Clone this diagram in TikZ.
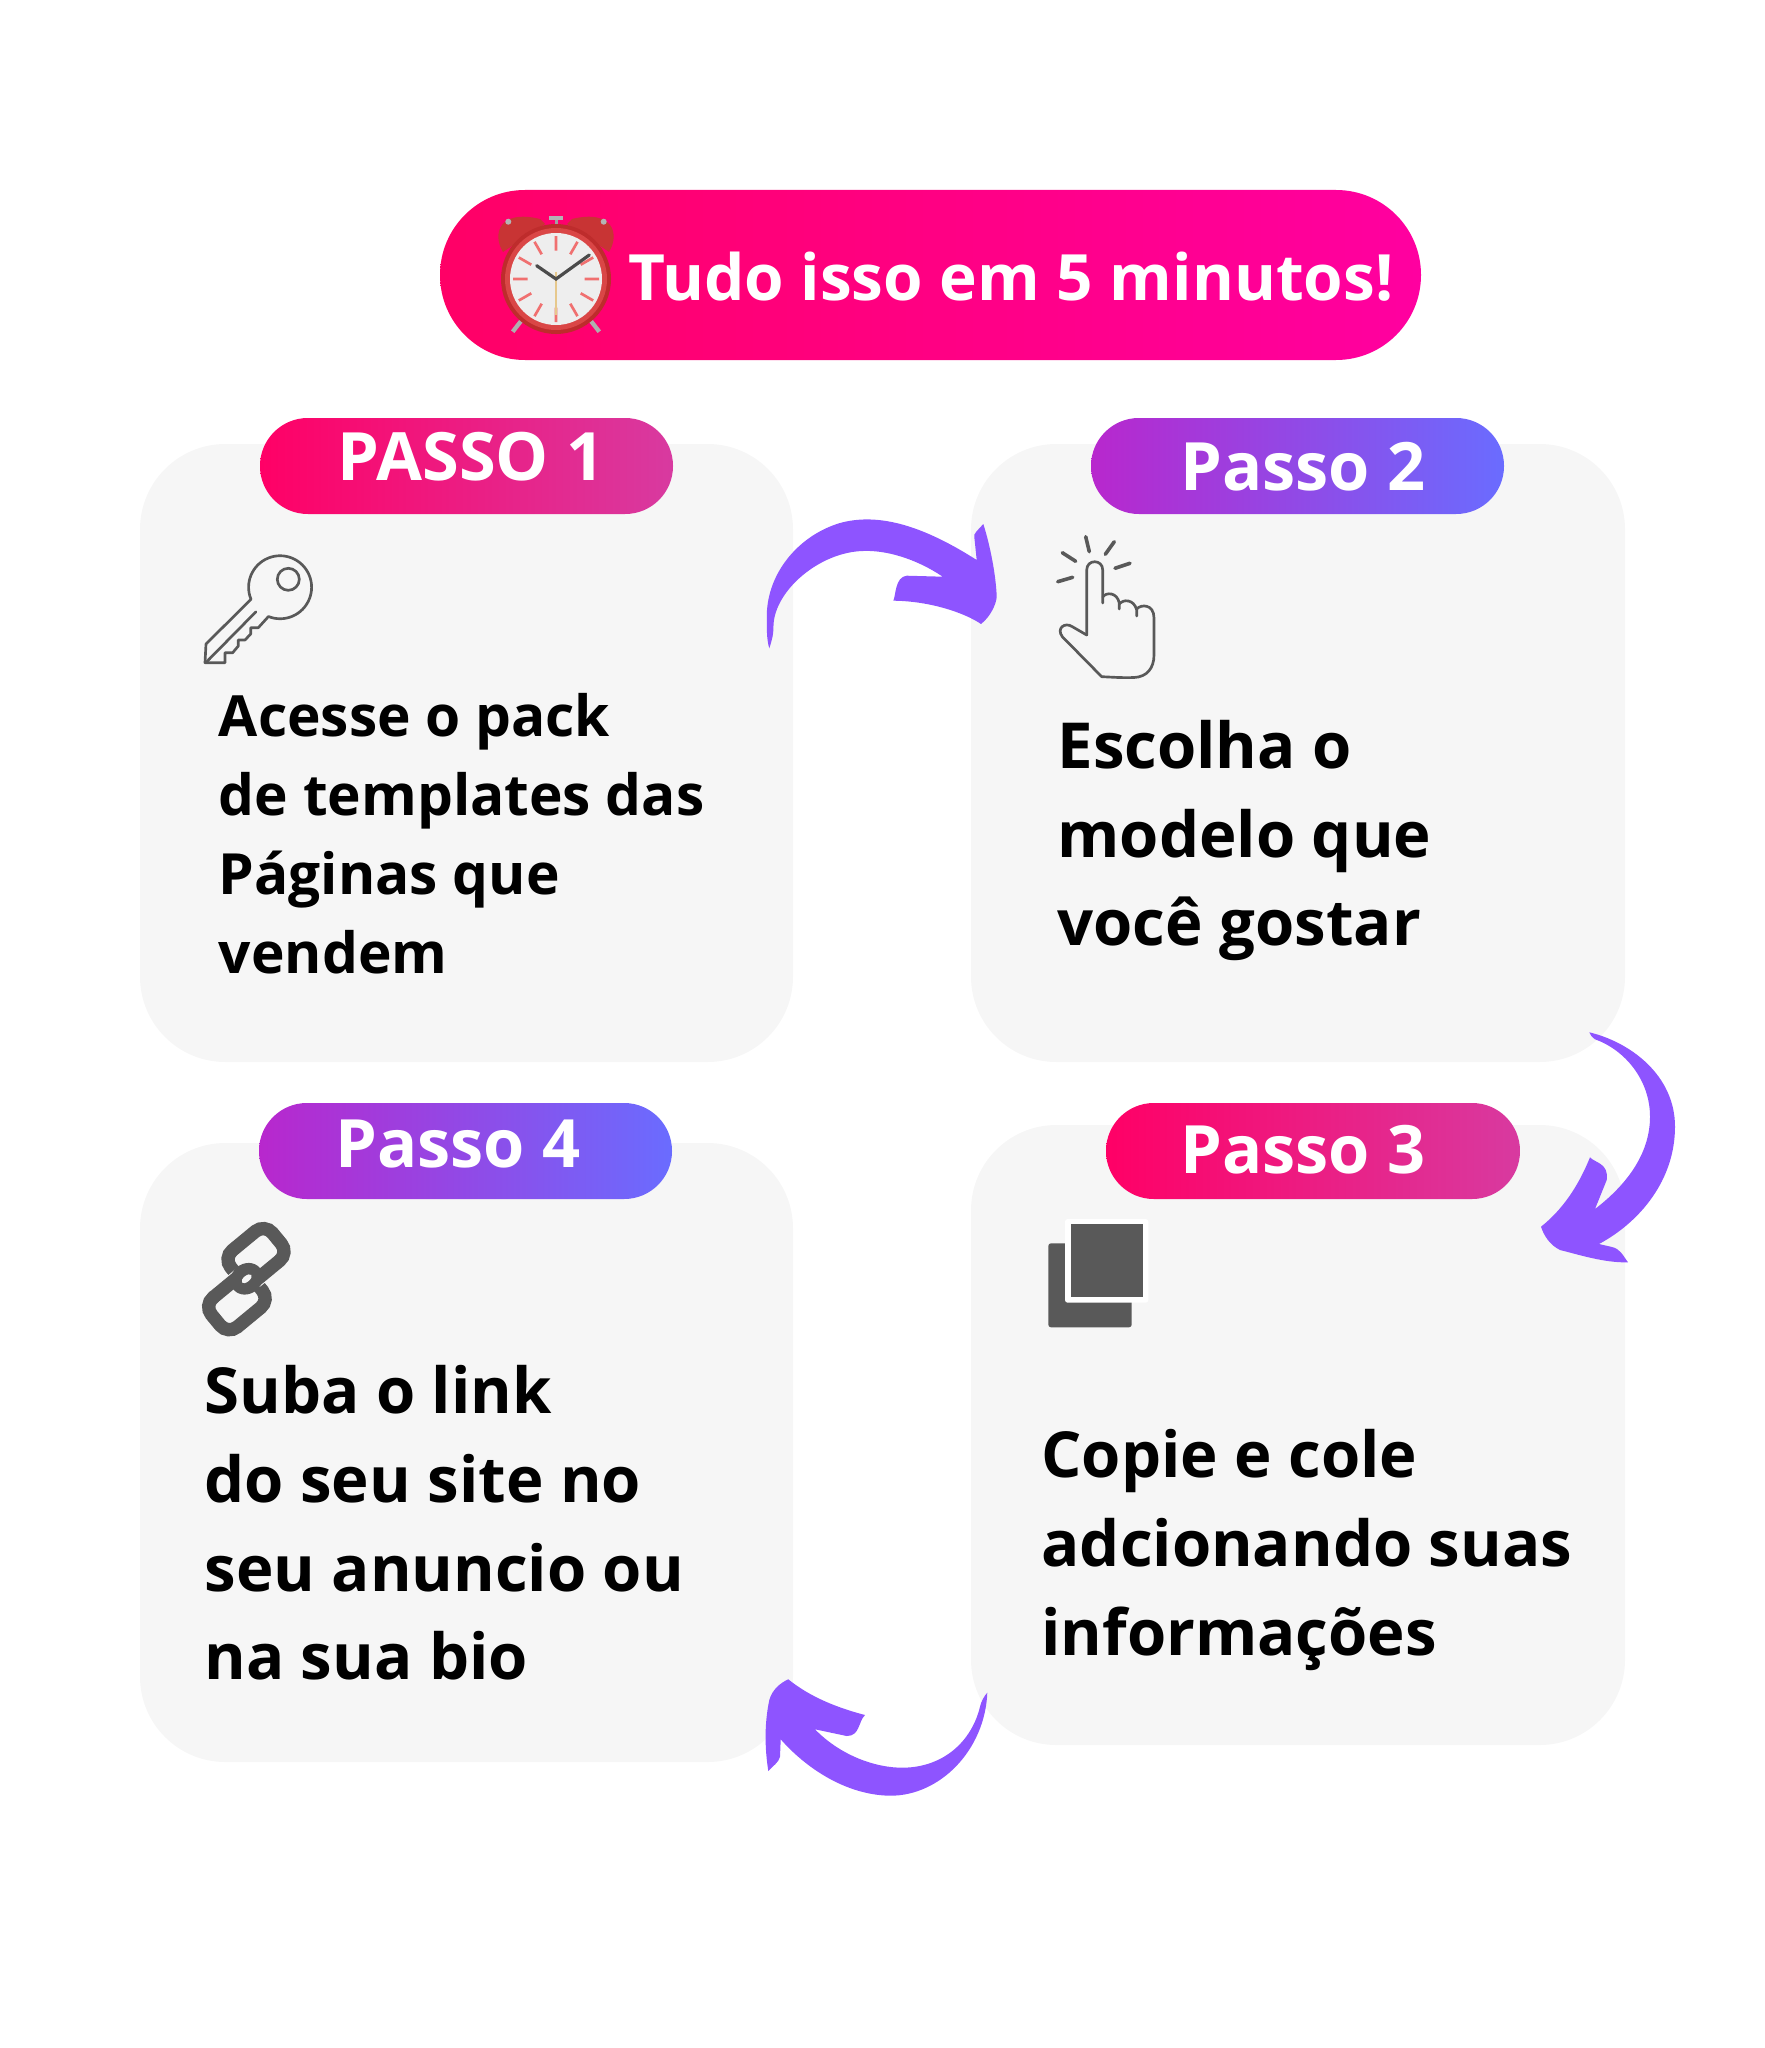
\documentclass[tikz,border=0pt]{standalone}
\usepackage{fontspec}
\setmainfont{Open Sans}
\definecolor{cardgrey}{RGB}{246,246,246}
\definecolor{icongrey}{RGB}{89,89,89}
\definecolor{arrowviolet}{RGB}{142,84,255}
\tikzset{every picture/.style={line width=0.75pt}}
\tikzset{
  card/.style={fill=cardgrey,rounded corners=64pt},
  pinkpill/.style={left color={rgb,255:red,255;green,0;blue,102},right color={rgb,255:red,216;green,58;blue,160},rounded corners=35.9pt},
  violetpill/.style={left color={rgb,255:red,184;green,39;blue,205},right color={rgb,255:red,106;green,108;blue,255},rounded corners=35.9pt},
  curvearrow/.style={fill=arrowviolet},
  iconline/.style={draw=icongrey,line width=2pt,line join=round,line cap=round},
  linkline/.style={draw=icongrey,line width=10pt,rounded corners=9pt},
  linkgap/.style={draw=cardgrey,line width=11.5pt,rounded corners=9pt},
  titletext/.style={anchor=base west,inner sep=0.75pt,text=white,font=\fontsize{47.9}{47.9}\selectfont\bfseries},
  pilltext/.style={anchor=base,inner sep=0.75pt,text=white,font=\fontsize{50}{50}\selectfont\bfseries},
  smalltext/.style={anchor=base west,inner sep=0.75pt,text=black,font=\fontsize{42.6}{42.6}\selectfont\bfseries},
  bigtext/.style={anchor=base west,inner sep=0.75pt,text=black,font=\fontsize{47.6}{47.6}\selectfont\bfseries},
}
\begin{document}
\begin{tikzpicture}[x=0.75pt,y=0.75pt,yscale=-1,xscale=1]
	\useasboundingbox (0,0) rectangle (1765,2048);
	
	%Shape: Rounded Rect (cards)
	\fill [card] (140,444) rectangle (793,1062);
	\fill [card] (971,444) rectangle (1625,1062);
	\fill [card] (971,1125) rectangle (1625,1745);
	\fill [card] (140,1143) rectangle (793,1762);
	
	%Shape: Pill (title)
	\shade [left color={rgb,255:red,255;green,0;blue,102},right color={rgb,255:red,255;green,0;blue,160},rounded corners=63.7pt] (440,190) rectangle (1421,360);
	%Shape: Pill (steps)
	\shade [pinkpill] (260,418) rectangle (673,514);
	\shade [violetpill] (1091,418) rectangle (1504,514);
	\shade [violetpill] (259,1103) rectangle (672,1199);
	\shade [pinkpill] (1106,1103) rectangle (1520,1199);
	
	%Shape: Alarm clock
	\fill [color={rgb,255:red,200;green,52;blue,52}] (503,252) .. controls (492,234) and (499,209) .. (540,219) -- (545,224) -- cycle ;
	\fill [color={rgb,255:red,200;green,52;blue,52}] (609,252) .. controls (620,234) and (613,209) .. (572,219) -- (567,224) -- cycle ;
	\fill [color={rgb,255:red,180;green,180;blue,180}] (508.3,221.7) circle (3) ;
	\fill [color={rgb,255:red,180;green,180;blue,180}] (603.7,221.7) circle (3) ;
	\fill [color={rgb,255:red,180;green,180;blue,180}] (549.3,215.7) rectangle (562.7,220) ;
	\fill [color={rgb,255:red,160;green,160;blue,160}] (554.5,220) rectangle (557.5,228) ;
	\draw [color={rgb,255:red,175;green,175;blue,175},line width=3.2pt] (525,316) -- (512.7,331.7) ;
	\draw [color={rgb,255:red,175;green,175;blue,175},line width=3.2pt] (587,316) -- (599.3,331.7) ;
	\draw [color={rgb,255:red,110;green,110;blue,110},line width=3pt] (521.7,238.3) -- (526,244) ;
	\draw [color={rgb,255:red,110;green,110;blue,110},line width=3pt] (590.3,238.3) -- (586,244) ;
	\fill [color={rgb,255:red,190;green,44;blue,44}] (556,279) circle (55) ;
	\fill [color={rgb,255:red,218;green,70;blue,70}] (556,279) circle (51) ;
	\fill [color={rgb,255:red,238;green,238;blue,238}] (556,279) circle (46) ;
	\draw [color={rgb,255:red,240;green,112;blue,112},line width=2pt] (584.5,279) -- (599,279) (580.7,293.3) -- (593.2,300.5) (570.3,303.7) -- (577.5,316.2) (556,307.5) -- (556,322) (541.7,303.7) -- (534.5,316.2) (531.3,293.3) -- (518.8,300.5) (527.5,279) -- (513,279) (531.3,264.7) -- (518.8,257.5) (541.7,254.3) -- (534.5,241.8) (556,250.5) -- (556,236) (570.3,254.3) -- (577.5,241.8) (580.7,264.7) -- (593.2,257.5) ;
	\draw [color={rgb,255:red,230;green,200;blue,140},line width=1pt] (556,271.7) -- (556,315) ;
	\draw [color={rgb,255:red,75;green,75;blue,75},line width=2.4pt,line cap=round] (536.7,265.7) -- (556,279) -- (589.3,255) ;
	
	%Shape: Key
	\draw [iconline] (251,599.3) arc [start angle=157.5,end angle=471.7,radius=31.5] -- (258.3,627.7) -- (250.7,627.7) -- (250.7,634) -- (245,640) -- (238.3,640) -- (238.3,646) -- (232.7,652.7) -- (225,652.7) -- (225,662.7) -- (205,662.7) -- (206,644) -- cycle ;
	\draw [iconline] (288.3,579.3) circle (11) ;
	\draw [iconline] (206.7,661.7) -- (256,611.7) ;
	
	%Shape: Hand
	\draw [iconline] (1086.7,635) -- (1086.7,570) .. controls (1086.7,559) and (1102.7,559) .. (1102.7,570) -- (1102.7,603) ;
	\draw [iconline] (1102.7,597) .. controls (1106,592) and (1117,592) .. (1119.3,603) -- (1119.3,609) ;
	\draw [iconline] (1119.3,604) .. controls (1123,599) and (1134,599) .. (1136.7,610) -- (1136.7,616) ;
	\draw [iconline] (1136.7,609) .. controls (1141,604) and (1154,604) .. (1154,618) -- (1154,655) .. controls (1154,668) and (1147,677) .. (1134,677.5) .. controls (1122,678) and (1110,677) .. (1101.7,676.7) -- (1062.3,636.7) .. controls (1056,628) and (1065,622) .. (1072,626.5) -- (1086.7,635) ;
	\draw [iconline,line width=2.7pt] (1057.7,581.7) -- (1072.7,577.3) ;
	\draw [iconline,line width=2.7pt] (1062.3,552.7) -- (1075.7,561.3) ;
	\draw [iconline,line width=2.7pt] (1085.7,536.7) -- (1089.3,551.7) ;
	\draw [iconline,line width=2.7pt] (1114.3,541.7) -- (1105.3,554.3) ;
	\draw [iconline,line width=2.7pt] (1115,568.3) -- (1130,563.3) ;
	
	%Shape: Copy squares
	\fill [color=icongrey,rounded corners=2pt] (1048.3,1243.3) rectangle (1131.7,1327.3) ;
	\fill [color=white,rounded corners=2pt] (1065,1219) rectangle (1148.3,1302.7) ;
	\fill [color=icongrey] (1070.7,1224.3) rectangle (1143.3,1297.3) ;
	
	%Shape: Chain links
	\begin{scope}[shift={(256,1255.5)},rotate=-39.5]
		\draw [linkline] (-72,5.2) rectangle (-17.4,43.2) ;
		\draw [linkgap] (-27,-19) rectangle (27,19) ;
		\draw [linkline] (-27,-19) rectangle (27,19) ;
		\draw [linkgap] (-58,5.2) -- (-24,5.2) ;
		\draw [linkline] (-60,5.2) -- (-24,5.2) ;
		\fill [color=icongrey] (-22,12) ellipse (17 and 15) ;
		\fill [color=cardgrey] (-22,12) ellipse (6 and 3) ;
	\end{scope}
	
	%Shape: Arrow 1 to 2
	\fill [curvearrow] (769.3,648.3) .. controls (766.5,640) and (766.5,625) .. (767,610) .. controls (770,570) and (800,535) .. (840,523) .. controls (880,512) and (925,527) .. (976.7,560) -- (974.3,537) .. controls (973,534) and (978,530) .. (983.3,524) .. controls (990,545) and (996,575) .. (996.7,597) .. controls (996,605) and (990,617) .. (981,624) .. controls (965,613) and (930,601) .. (893.3,600.7) .. controls (896,595) and (895,577) .. (906.7,575.7) -- (942.7,576.7) .. controls (915,558) and (885,550) .. (863,551) .. controls (820,552) and (775,590) .. (773.5,625) .. controls (773.5,635) and (772,640) .. (769.3,648.3) -- cycle ;
	%Shape: Arrow 2 to 3
	\fill [curvearrow] (1589.3,1032.3) .. controls (1630,1042) and (1675,1075) .. (1675,1126.7) .. controls (1675,1180) and (1640,1222) .. (1599,1244) -- (1612,1247) .. controls (1620,1249) and (1622,1254) .. (1628,1262.3) .. controls (1605,1263) and (1580,1255) .. (1560,1250) .. controls (1550,1245) and (1544,1236) .. (1541,1226.7) .. controls (1562,1210) and (1578,1187) .. (1590,1157.3) .. controls (1595,1163) and (1609,1163) .. (1606.7,1180) -- (1595,1209) .. controls (1625,1186) and (1650,1155) .. (1650,1116.7) .. controls (1650,1080) and (1625,1050) .. (1595,1039.3) .. controls (1592,1037) and (1590,1035) .. (1589.3,1032.3) -- cycle ;
	%Shape: Arrow 3 to 4
	\fill [curvearrow] (987.3,1692.7) .. controls (985,1750) and (940,1796) .. (890,1795.7) .. controls (845,1795) and (805,1767) .. (780.7,1739.3) -- (780,1756.7) .. controls (779,1762) and (773,1766) .. (768.3,1771) .. controls (765,1750) and (764,1725) .. (769.3,1700) .. controls (772,1690) and (780,1683) .. (788.3,1679.3) .. controls (810,1697) and (838,1708) .. (865,1715) .. controls (858,1722) and (860,1736) .. (846.7,1736) -- (815,1729.3) .. controls (840,1755) and (875,1768) .. (903.3,1767.7) .. controls (945,1767) and (972,1740) .. (980,1706.7) .. controls (981,1702) and (984,1696) .. (987.3,1692.7) -- cycle ;
	
	% Text Node
	\draw (627,300) node (titlelabel) [titletext] {Tudo isso em 5 minutos!};
	% Text Node
	\draw (471,480) node (stepone) [pilltext] {PASSO 1};
	% Text Node
	\draw (1303,490.5) node (steptwo) [pilltext] {Passo 2};
	% Text Node
	\draw (458,1167) node (stepfour) [pilltext] {Passo 4};
	% Text Node
	\draw (1303,1173) node (stepthree) [pilltext] {Passo 3};
	% Text Node
	\draw (217.4,736) node (onea) [smalltext] {Acesse o pack};
	\draw (217.4,815) node (oneb) [smalltext] {de templates das};
	\draw (217.4,894) node (onec) [smalltext] {Páginas que};
	\draw (217.4,973.5) node (oned) [smalltext] {vendem};
	% Text Node
	\draw (1056,768) node (twoa) [bigtext] {Escolha o};
	\draw (1056,857.5) node (twob) [bigtext] {modelo que};
	\draw (1056,945.5) node (twoc) [bigtext] {você gostar};
	% Text Node
	\draw (1040,1477.6) node (threea) [bigtext] {Copie e cole};
	\draw (1040,1566) node (threeb) [bigtext] {adcionando suas};
	\draw (1040,1655) node (threec) [bigtext] {informações};
	% Text Node
	\draw (203,1413.6) node (foura) [bigtext] {Suba o link};
	\draw (203,1502) node (fourb) [bigtext] {do seu site no};
	\draw (203,1591) node (fourc) [bigtext] {seu anuncio ou};
	\draw (203,1679) node (fourd) [bigtext] {na sua bio};
	
\end{tikzpicture}
\end{document}
